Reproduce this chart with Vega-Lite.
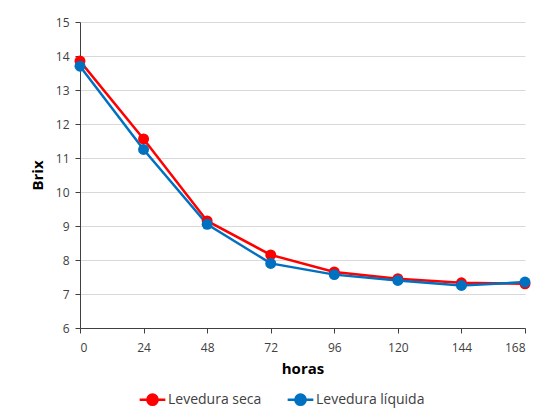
{
  "$schema": "https://vega.github.io/schema/vega-lite/v6.json",
  "width": 445,
  "height": 306,
  "autosize": {"type": "none"},
  "padding": {"left": 80, "top": 22, "right": 14, "bottom": 91},
  "background": "white",
  "config": {
    "font": "Open Sans",
    "view": {"stroke": null},
    "axis": {"labelFont": "Open Sans", "labelFontSize": 12, "labelColor": "#404040", "titleFont": "Open Sans", "titleFontSize": 15, "titleFontWeight": "bold", "titleColor": "#000000", "domainColor": "#404040", "tickColor": "#404040"}
  },
  "data": {"values": [
    {"horas": 0, "brix": 13.85, "serie": "Levedura seca"},
    {"horas": 24, "brix": 11.56, "serie": "Levedura seca"},
    {"horas": 48, "brix": 9.15, "serie": "Levedura seca"},
    {"horas": 72, "brix": 8.15, "serie": "Levedura seca"},
    {"horas": 96, "brix": 7.65, "serie": "Levedura seca"},
    {"horas": 120, "brix": 7.45, "serie": "Levedura seca"},
    {"horas": 144, "brix": 7.33, "serie": "Levedura seca"},
    {"horas": 168, "brix": 7.3, "serie": "Levedura seca"},
    {"horas": 0, "brix": 13.7, "serie": "Levedura líquida"},
    {"horas": 24, "brix": 11.25, "serie": "Levedura líquida"},
    {"horas": 48, "brix": 9.05, "serie": "Levedura líquida"},
    {"horas": 72, "brix": 7.9, "serie": "Levedura líquida"},
    {"horas": 96, "brix": 7.57, "serie": "Levedura líquida"},
    {"horas": 120, "brix": 7.4, "serie": "Levedura líquida"},
    {"horas": 144, "brix": 7.25, "serie": "Levedura líquida"},
    {"horas": 168, "brix": 7.35, "serie": "Levedura líquida"}
  ]},
  "mark": {"type": "line", "strokeWidth": 2.5, "point": {"filled": true, "size": 120, "opacity": 1}},
  "encoding": {
    "x": {"field": "horas", "type": "quantitative", "title": "horas",
      "scale": {"domain": [0, 168], "nice": false, "zero": true},
      "axis": {"values": [0, 24, 48, 72, 96, 120, 144, 168], "grid": false, "tickSize": 5, "labelPadding": 9, "titlePadding": 8}},
    "y": {"field": "brix", "type": "quantitative", "title": "Brix",
      "scale": {"domain": [6, 15], "nice": false, "zero": false},
      "axis": {"values": [6, 7, 8, 9, 10, 11, 12, 13, 14, 15], "grid": true, "gridColor": "#d9d9d9", "tickSize": 5, "labelPadding": 6, "titlePadding": 10}},
    "color": {"field": "serie", "type": "nominal", "sort": ["Levedura seca", "Levedura líquida"],
      "scale": {"domain": ["Levedura seca", "Levedura líquida"], "range": ["#ff0000", "#0070c0"]},
      "legend": {"title": null, "orient": "none", "direction": "horizontal", "legendX": 58, "legendY": 363, "labelFontSize": 14, "labelColor": "#404040", "labelFont": "Open Sans", "labelOffset": 1, "symbolType": "M-1,0H-0.4M0.4,0H1M0.4,0A0.4,0.4,0,1,1,-0.4,0A0.4,0.4,0,1,1,0.4,0Z", "symbolSize": 660, "symbolStrokeWidth": 2.5, "columnPadding": 20}}
  }
}
